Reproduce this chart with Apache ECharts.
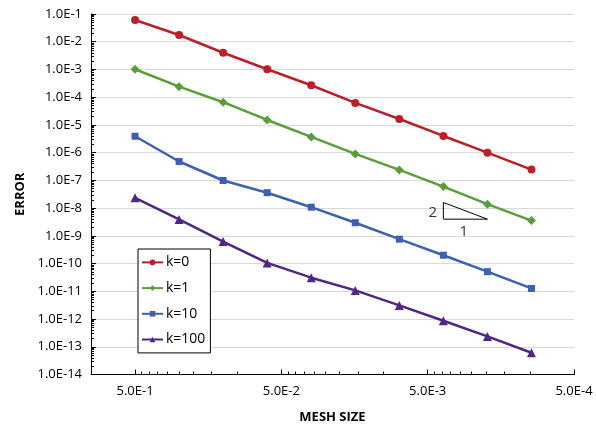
<!DOCTYPE html>
<html>
<head>
<meta charset="utf-8">
<script src="https://cdn.jsdelivr.net/npm/echarts@6/dist/echarts.min.js"></script>
<style>
html,body{margin:0;padding:0;background:#fff;}
#chart{width:596px;height:429px;}
</style>
</head>
<body>
<div id="chart"></div>
<script>
// ---- data ----
const meshSize = [0.5, 0.25, 0.125, 0.0625, 0.03125, 0.015625, 0.0078125, 0.00390625, 0.001953125, 0.0009765625];
const errK0   = [6.1e-2, 1.75e-2, 4.0e-3, 1.02e-3, 2.7e-4, 6.2e-5, 1.64e-5, 4.0e-6, 1.0e-6, 2.45e-7];
const errK1   = [1.02e-3, 2.4e-4, 6.6e-5, 1.51e-5, 3.7e-6, 9.0e-7, 2.39e-7, 5.98e-8, 1.39e-8, 3.56e-9];
const errK10  = [3.9e-6, 4.8e-7, 9.9e-8, 3.6e-8, 1.08e-8, 2.97e-9, 7.6e-10, 2.0e-10, 5.1e-11, 1.27e-11];
const errK100 = [2.36e-8, 3.9e-9, 6.2e-10, 1.06e-10, 3.1e-11, 1.08e-11, 3.1e-12, 8.7e-13, 2.37e-13, 6.1e-14];
const seriesNames = ['k=0', 'k=1', 'k=10', 'k=100'];
const xTickValues = [0.5, 0.05, 0.005, 0.0005];
const yTickValues = [1e-1,1e-2,1e-3,1e-4,1e-5,1e-6,1e-7,1e-8,1e-9,1e-10,1e-11,1e-12,1e-13,1e-14];
// slope triangle annotation (data coordinates)
const slopeTriangle = [[0.00390625, 1.6e-8], [0.00390625, 4e-9], [0.001953125, 4e-9], [0.00390625, 1.6e-8]];
const slopeLabels = [{ value: [0.00462, 6.7e-9], text: '2' }, { value: [0.00283, 1.39e-9], text: '1' }];

// ---- build ----
const xMinor = [];
xTickValues.forEach(function (b) { for (let k = 2; k <= 9; k++) { const v = b * k; if (v < 1) xMinor.push(v); } });
const yMinor = [];
for (let n = -14; n <= -2; n++) { for (let k = 2; k <= 9; k++) yMinor.push(k * Math.pow(10, n)); }

const colors = ['#BC1F2A', '#5A9E3C', '#3D60B0', '#4F2683'];
const symbols = ['circle', 'diamond', 'rect', 'triangle'];
const symbolSizes = [8, 9, 7, 9];
const errs = [errK0, errK1, errK10, errK100];
const fmt = function (v) { return Number(v).toExponential(1).toUpperCase(); };
const FONT = 'Open Sans';

const series = errs.map(function (arr, i) {
  return {
    name: seriesNames[i],
    type: 'line',
    xAxisIndex: 0, yAxisIndex: 0,
    data: meshSize.map(function (h, j) { return [h, arr[j]]; }),
    symbol: symbols[i],
    symbolSize: symbolSizes[i],
    lineStyle: { color: colors[i], width: 2.5 },
    itemStyle: { color: colors[i] },
    z: 3
  };
});
series.push({
  type: 'line', xAxisIndex: 0, yAxisIndex: 0, silent: true,
  data: slopeTriangle, showSymbol: false, symbol: 'none',
  lineStyle: { color: '#000', width: 1 }, z: 2
});
series.push({
  type: 'scatter', xAxisIndex: 0, yAxisIndex: 0, silent: true, symbolSize: 0,
  data: slopeLabels.map(function (d) { return { value: d.value, label: { formatter: d.text } }; }),
  label: { show: true, position: 'inside', color: '#000', fontFamily: FONT, fontSize: 15 }
});

const chart = echarts.init(document.getElementById('chart'), null, { renderer: 'canvas' });
chart.setOption({
  animation: false,
  backgroundColor: '#fff',
  textStyle: { fontFamily: FONT },
  grid: { left: 91, right: 22, top: 14, bottom: 54.5, containLabel: false },
  legend: {
    data: seriesNames,
    orient: 'vertical',
    left: 138, top: 249,
    padding: [6.4, 5, 6.4, 3],
    itemWidth: 21, itemHeight: 7, itemGap: 11.7,
    borderColor: '#000', borderWidth: 1, backgroundColor: '#fff',
    textStyle: { fontFamily: FONT, fontSize: 14, color: '#000', padding: [0, 0, 0, -2] }
  },
  xAxis: [{
    type: 'log', inverse: true, min: 0.0005, max: 1, gridIndex: 0, position: 'bottom',
    name: 'MESH SIZE', nameLocation: 'middle', nameGap: 36,
    nameTextStyle: { fontFamily: FONT, fontWeight: 'bold', fontSize: 13, color: '#000' },
    axisLine: { show: true, lineStyle: { color: '#000', width: 1 } },
    axisTick: { show: true, inside: true, length: 5, customValues: xTickValues, lineStyle: { color: '#000' } },
    axisLabel: { show: true, customValues: xTickValues, formatter: fmt, margin: 10, fontFamily: FONT, fontSize: 13, color: '#000' },
    splitLine: { show: false }
  }, {
    type: 'log', inverse: true, min: 0.0005, max: 1, gridIndex: 0, position: 'bottom',
    axisLine: { show: false },
    axisTick: { show: true, inside: true, length: 3, customValues: xMinor, lineStyle: { color: '#000' } },
    axisLabel: { show: false },
    splitLine: { show: false }
  }],
  yAxis: [{
    type: 'log', min: 1e-14, max: 1e-1, gridIndex: 0, position: 'left',
    name: 'ERROR', nameLocation: 'middle', nameGap: 64,
    nameTextStyle: { fontFamily: FONT, fontWeight: 'bold', fontSize: 13, color: '#000' },
    axisLine: { show: true, lineStyle: { color: '#000', width: 1 } },
    axisTick: { show: true, inside: true, length: 5, customValues: yTickValues, lineStyle: { color: '#000' } },
    axisLabel: { show: true, customValues: yTickValues, formatter: fmt, margin: 9, fontFamily: FONT, fontSize: 13, color: '#000' },
    splitLine: { show: true, lineStyle: { color: '#D9D9D9', width: 1 } }
  }, {
    type: 'log', min: 1e-14, max: 1e-1, gridIndex: 0, position: 'left',
    axisLine: { show: false },
    axisTick: { show: true, inside: true, length: 3, customValues: yMinor, lineStyle: { color: '#000' } },
    axisLabel: { show: false },
    splitLine: { show: false }
  }],
  series: series
});
</script>
</body>
</html>
